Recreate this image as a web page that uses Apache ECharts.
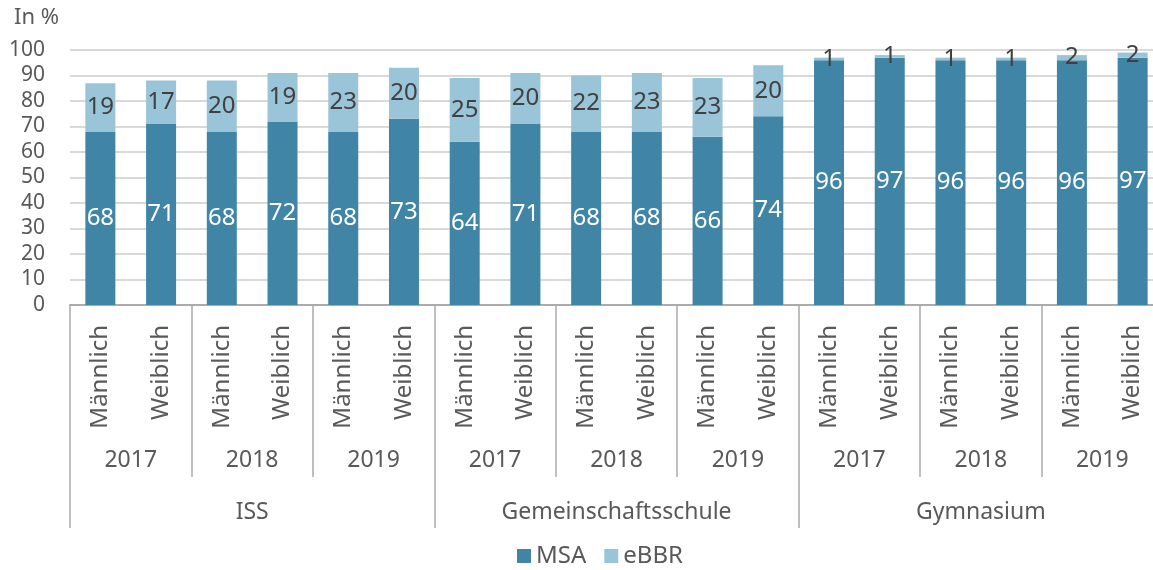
<!DOCTYPE html>
<html>
<head>
<meta charset="utf-8">
<script src="https://cdn.jsdelivr.net/npm/echarts@6/dist/echarts.min.js"></script>
<style>
  html, body { margin: 0; padding: 0; background: #fff; overflow: hidden; }
  /* etwas breiter als das Fenster: der Plotbereich läuft rechts aus dem Bild */
  #chart { width: 1164px; height: 570px; }
</style>
</head>
<body>
<div id="chart"></div>
<script>
// Daten
const genders = ['Männlich', 'Weiblich', 'Männlich', 'Weiblich', 'Männlich', 'Weiblich',
  'Männlich', 'Weiblich', 'Männlich', 'Weiblich', 'Männlich', 'Weiblich',
  'Männlich', 'Weiblich', 'Männlich', 'Weiblich', 'Männlich', 'Weiblich'];
const years = ['2017', '2018', '2019', '2017', '2018', '2019', '2017', '2018', '2019'];
const schools = ['ISS', 'Gemeinschaftsschule', 'Gymnasium'];
const msaValues = [68, 71, 68, 72, 68, 73, 64, 71, 68, 68, 66, 74, 96, 97, 96, 96, 96, 97];
const ebbrValues = [19, 17, 20, 19, 23, 20, 25, 20, 22, 23, 23, 20, 1, 1, 1, 1, 2, 2];
const yTicks = [0, 10, 20, 30, 40, 50, 60, 70, 80, 90, 100];

const font = 'Noto Sans';
const textColor = '#595959';
const lineColor = '#ababab';

const chart = echarts.init(document.getElementById('chart'));

const option = {
  animation: false,
  textStyle: { fontFamily: font },
  title: {
    text: 'In %',
    left: 9,
    top: 2,
    textStyle: { fontFamily: font, fontSize: 22, fontWeight: 'normal', color: textColor }
  },
  legend: {
    top: 539,
    left: 512,
    itemWidth: 14,
    itemHeight: 14,
    itemGap: 18,
    icon: 'rect',
    textStyle: { fontFamily: font, fontSize: 24, color: textColor },
    data: ['MSA', 'eBBR']
  },
  grid: {
    left: 70,
    right: 1,
    top: 50,
    bottom: 265
  },
  xAxis: [
    {
      type: 'category',
      data: genders,
      position: 'bottom',
      axisLine: { show: true, lineStyle: { color: lineColor, width: 2 } },
      axisTick: { show: false },
      axisLabel: {
        interval: 0,
        rotate: 90,
        margin: 20,
        fontSize: 24,
        color: textColor,
        fontFamily: font
      }
    },
    {
      type: 'category',
      data: years,
      position: 'bottom',
      axisLine: { show: false },
      axisTick: { show: true, interval: 0, length: 172, lineStyle: { color: lineColor, width: 1.5 } },
      axisLabel: {
        interval: 0,
        margin: 144,
        fontSize: 23,
        color: textColor,
        fontFamily: font
      }
    },
    {
      type: 'category',
      data: schools,
      position: 'bottom',
      axisLine: { show: false },
      axisTick: { show: true, interval: 0, length: 223, lineStyle: { color: lineColor, width: 1.5 } },
      axisLabel: {
        interval: 0,
        margin: 196,
        fontSize: 23,
        color: textColor,
        fontFamily: font
      }
    }
  ],
  yAxis: {
    type: 'value',
    min: yTicks[0],
    max: yTicks[yTicks.length - 1],
    interval: 10,
    axisLine: { show: false },
    axisTick: { show: false },
    axisLabel: { margin: 25, fontSize: 21, color: textColor, fontFamily: font },
    splitLine: { lineStyle: { color: '#d9d9d9', width: 2 } }
  },
  series: [
    {
      name: 'MSA',
      type: 'bar',
      stack: 'total',
      xAxisIndex: 0,
      barWidth: 30,
      data: msaValues,
      itemStyle: { color: '#4085a6' },
      label: {
        show: true,
        position: 'inside',
        color: '#ffffff',
        fontSize: 24,
        fontFamily: font
      }
    },
    {
      name: 'eBBR',
      type: 'bar',
      stack: 'total',
      xAxisIndex: 0,
      barWidth: 30,
      data: ebbrValues,
      itemStyle: { color: '#9ac4d8' },
      label: {
        show: true,
        position: 'inside',
        color: '#404040',
        fontSize: 24,
        fontFamily: font
      }
    }
  ]
};

chart.setOption(option);
</script>
</body>
</html>
